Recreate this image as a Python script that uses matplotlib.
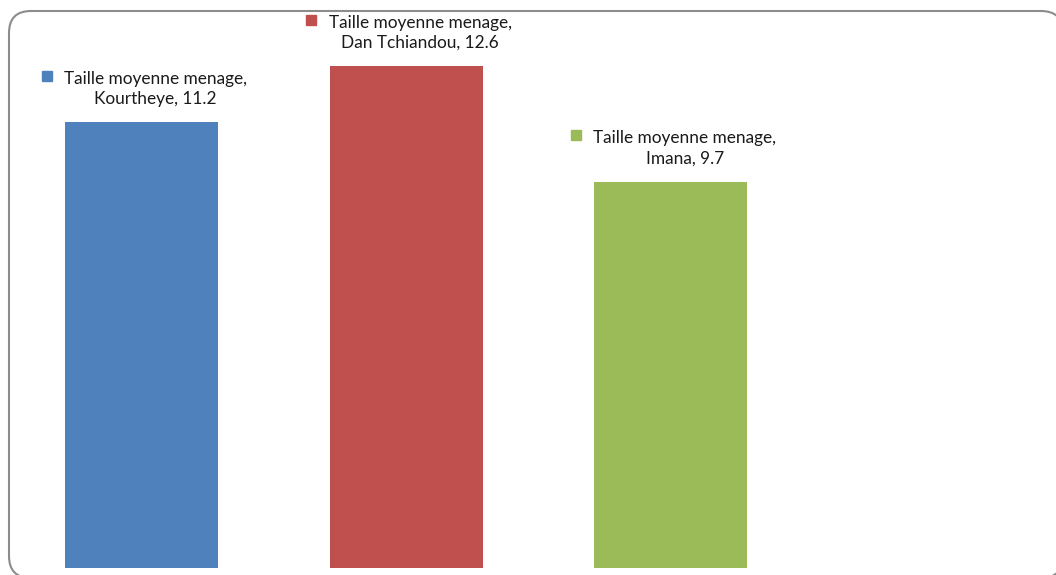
import matplotlib.pyplot as plt
from matplotlib.patches import FancyBboxPatch, Polygon
from matplotlib.transforms import offset_copy, IdentityTransform

plt.rcParams['font.family'] = ['Lato', 'DejaVu Sans']

villages = ["Kourtheye", "Dan Tchiandou", "Imana"]
taille = [11.2, 12.6, 9.7]
couleurs = ["#4F81BD", "#C0504D", "#9BBB59"]
serie = "Taille moyenne menage"

fig = plt.figure(figsize=(10.56, 5.75), dpi=100)
ax = fig.add_axes([0, 0, 1, 1])
ax.set_xlim(-0.535, 3.457)
ax.set_ylim(-0.176, 14.27)
ax.axis("off")

# rounded chart-area border in pixels (runs past the right and bottom edges);
# flattened to a polyline so the off-canvas corners clip cleanly
boite = FancyBboxPatch((9, -3), 1054, 567,
                       boxstyle="round,pad=0,rounding_size=22")
contour = boite.get_path().to_polygons(closed_only=False)[0]
fig.patches.append(Polygon(contour, closed=True, fill=False,
                           transform=IdentityTransform(),
                           edgecolor="#8c8c8c", linewidth=1.5))

x = range(len(villages))
ax.bar(x, taille, width=0.578, color=couleurs)

for i, (v, c, nom) in enumerate(zip(taille, couleurs, villages)):
    # legend key square beside the data label
    tr = offset_copy(ax.transData, fig=fig, x=-95, y=46.5, units="dots")
    ax.plot(i, v, marker="s", markersize=7.9, color=c, transform=tr,
            linestyle="none")
    ax.annotate(f"{serie},\n{nom}, {v}", (i, v), xytext=(14, 33.5),
                textcoords="offset pixels", ha="center", va="center",
                multialignment="center", fontsize=12.4, color="#1a1a1a",
                linespacing=1.3)

fig.savefig("out.png", dpi=100)
